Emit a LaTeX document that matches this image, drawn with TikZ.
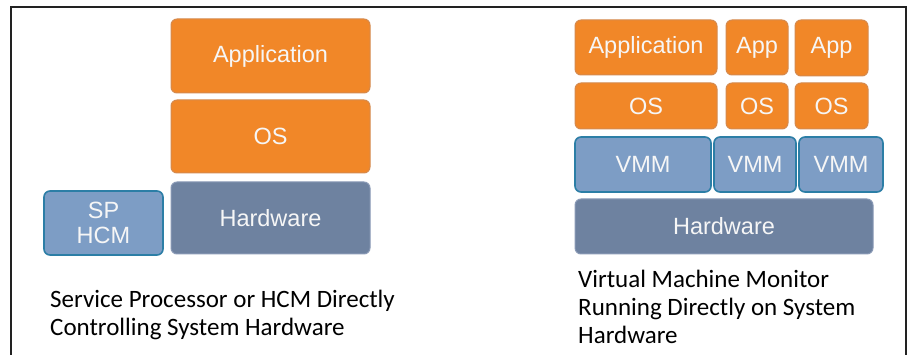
\documentclass[tikz,border=0pt]{standalone}
\usepackage{fontspec}
\setmainfont{Liberation Sans}
\newfontfamily\capfont{Carlito}
\definecolor{orangefill}{HTML}{F18728}
\definecolor{orangeedge}{HTML}{D58A4E}
\definecolor{hwfill}{HTML}{6E82A0}
\definecolor{hwedge}{HTML}{8A9AB6}
\definecolor{vmfill}{HTML}{7D9DC5}
\definecolor{vmedge}{HTML}{2C7EA6}
\definecolor{boxtext}{HTML}{F6F6F6}
\definecolor{framecol}{HTML}{222222}
\begin{document}
\begin{tikzpicture}[x=1pt,y=-1pt,
  layer/.style={rounded corners=6pt, inner sep=0pt, text=boxtext,
    font=\fontsize{23.5}{25}\selectfont, align=center},
  orangebox/.style={layer, fill=orangefill, draw=orangeedge, line width=1pt},
  hwbox/.style={layer, fill=hwfill, draw=hwedge, line width=1pt},
  vmbox/.style={layer, fill=vmfill, draw=vmedge, line width=1.6pt},
  caption/.style={anchor=base west, align=left, inner sep=0pt, text=black,
    font=\capfont\fontsize{25}{28}\selectfont}]
\useasboundingbox (0,0) rectangle (915,355);
\fill[white] (0,0) rectangle (915,355);
% frame
\draw[framecol, line width=2pt] (11,355) -- (11,7) -- (906,7) -- (906,355);
% left stack
\node[orangebox, minimum width=199pt, minimum height=74pt] (app1) at (270.5,56) {Application};
\node[orangebox, minimum width=199pt, minimum height=73pt] (os1) at (270.5,136.5) {OS};
\node[hwbox, minimum width=199pt, minimum height=72pt] (hw1) at (270.5,218) {Hardware};
\node[vmbox, minimum width=119pt, minimum height=64pt] (sp) at (103.5,223) {SP\\HCM};
\node[caption] (cap1) at (50,335) {Service Processor or HCM Directly\\Controlling System Hardware};
% right stack
\node[orangebox, minimum width=142pt, minimum height=55pt] (app2) at (646,47.5) {Application};
\node[orangebox, minimum width=62pt, minimum height=55pt] (appa) at (757,47.5) {App};
\node[orangebox, minimum width=73pt, minimum height=56pt] (appb) at (831.5,48) {App};
\node[orangebox, minimum width=142pt, minimum height=46pt] (os2) at (646,106) {OS};
\node[orangebox, minimum width=62pt, minimum height=46pt] (osa) at (757,106) {OS};
\node[orangebox, minimum width=73pt, minimum height=46pt] (osb) at (831.5,106) {OS};
\node[vmbox, minimum width=136pt, minimum height=55pt] (vmm1) at (643,164.5) {VMM};
\node[vmbox, minimum width=82pt, minimum height=55pt] (vmm2) at (755,164.5) {VMM};
\node[vmbox, minimum width=84pt, minimum height=55pt] (vmm3) at (841,164.5) {VMM};
\node[hwbox, minimum width=298pt, minimum height=55pt] (hw2) at (724,226.5) {Hardware};
\node[caption] (cap2) at (578,343) {Virtual Machine Monitor\\Running Directly on System\\Hardware};
\end{tikzpicture}
\end{document}
